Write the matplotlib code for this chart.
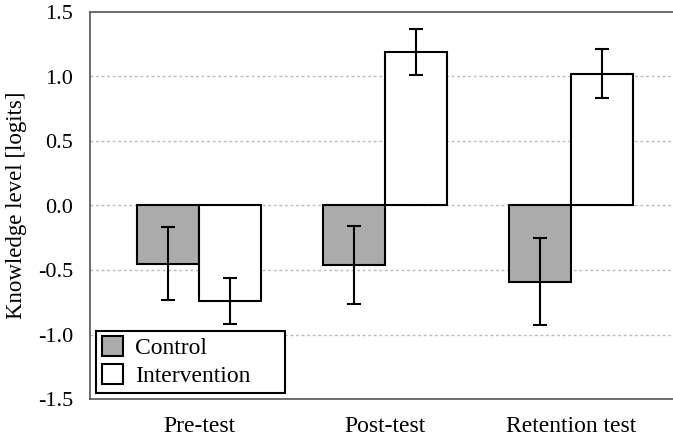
import numpy as np
import matplotlib
matplotlib.use("Agg")
import matplotlib.pyplot as plt

plt.rcParams['font.family'] = ['Liberation Serif', 'DejaVu Serif']

# data
categories = ["Pre-test", "Post-test", "Retention test"]
control = [-0.45, -0.46, -0.59]
control_err = [0.28, 0.30, 0.34]
intervention = [-0.74, 1.19, 1.02]
intervention_err = [0.175, 0.175, 0.19]
yticks = [-1.5, -1.0, -0.5, 0.0, 0.5, 1.0, 1.5]

W, H = 673, 436
fig = plt.figure(figsize=(W / 100, H / 100), dpi=100)
# axes runs off the right edge of the picture, like the reference
ax = fig.add_axes([90 / W, (H - 399) / H, 630 / W, 387 / H])

x = np.arange(len(categories))
w = 1 / 3
ax.bar(x - w / 2, control, w, color="#ababab", edgecolor="black", linewidth=1.5,
       label="Control", zorder=2)
ax.bar(x + w / 2, intervention, w, color="white", edgecolor="black", linewidth=1.5,
       label="Intervention", zorder=2)
ax.errorbar(x - w / 2, control, yerr=control_err, fmt="none", ecolor="black",
            elinewidth=1.5, capsize=5, capthick=1.5, zorder=3)
ax.errorbar(x + w / 2, intervention, yerr=intervention_err, fmt="none", ecolor="black",
            elinewidth=1.5, capsize=5, capthick=1.5, zorder=3)

ax.set_xlim(-0.586, -0.586 + 630 / 186)
ax.set_ylim(-1.49, 1.485)
ax.set_yticks(yticks)
ax.set_yticklabels([f"{v:.1f}" for v in yticks])
ax.set_xticks(x)
ax.set_xticklabels(categories)
ax.tick_params(axis="both", length=0, colors="black")
ax.tick_params(axis="y", pad=12, labelsize=16)
ax.tick_params(axis="x", pad=12, labelsize=17)

for v in [-1.0, -0.5, 0.0, 0.5, 1.0]:
    ax.axhline(v, color="#bbbbbb", linestyle=(0, (2, 2)), linewidth=1, zorder=1)

for s in ["left", "top", "bottom"]:
    ax.spines[s].set_color("#555555")
    ax.spines[s].set_linewidth(1.2)
ax.spines["right"].set_visible(False)

ax.set_ylabel("Knowledge level [logits]", fontsize=16.5, labelpad=8)

leg = ax.legend(loc="lower left", bbox_to_anchor=(0.0095, 0.0155, 0.3, 0.1),
                mode="expand", borderaxespad=0,
                fontsize=17, fancybox=False, framealpha=1, edgecolor="black",
                handlelength=0.9, handleheight=0.9, handletextpad=0.5,
                labelspacing=0.2, borderpad=0.25)
leg.get_frame().set_linewidth(1.5)

fig.savefig("out.png", dpi=100)
